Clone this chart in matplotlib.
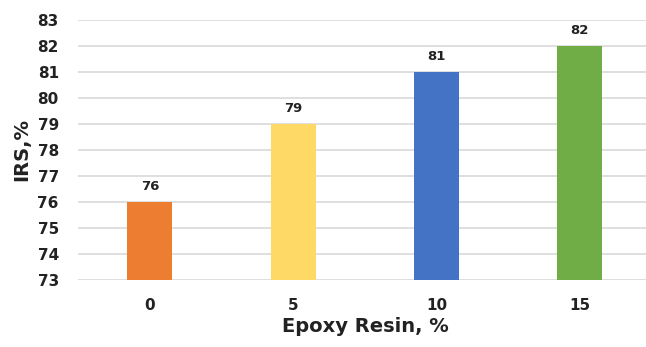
import matplotlib.pyplot as plt

# IRS vs epoxy resin content
resin = ['0', '5', '10', '15']
irs = [76, 79, 81, 82]
colors = ['#ED7D31', '#FFD966', '#4472C4', '#70AD47']

plt.rcParams['font.family'] = ['DejaVu Sans']

fig = plt.figure(figsize=(6.46, 3.47), dpi=100)
ax = fig.add_axes([78.3 / 646, 67 / 347, 573 / 646, 260 / 347])

x = range(len(resin))
bars = ax.bar(x, [v - 73 for v in irs], bottom=73, width=0.315, color=colors, zorder=3)

for xi, v in zip(x, irs):
    ax.text(xi, v + 0.35, str(v), ha='center', va='bottom', fontsize=9.5, fontweight='bold', color='#222222')

ax.set_xlim(-0.5, 3.5)
ax.set_ylim(73, 83)
ax.set_yticks(range(73, 84))
ax.set_xticks(list(x))
ax.set_xticklabels(resin)
ax.tick_params(axis='both', length=0, labelsize=11, colors='#222222')
ax.tick_params(axis='x', pad=13)
ax.tick_params(axis='y', pad=14)
for lbl in ax.get_xticklabels() + ax.get_yticklabels():
    lbl.set_fontweight('bold')

ax.grid(axis='y', color='#D9D9D9', linewidth=1.2, zorder=0)
for s in ax.spines.values():
    s.set_visible(False)

ax.set_xlabel('Epoxy Resin, %', fontsize=14, fontweight='bold', color='#222222')
ax.xaxis.set_label_coords((365 - 78.3) / 573, -(317 - 280) / 260)
ax.set_ylabel('IRS,%', fontsize=14, fontweight='bold', color='#222222')
ax.yaxis.set_label_coords(-(78.3 - 31) / 573, (280 - 150) / 260)

fig.savefig('out.png', dpi=100)
